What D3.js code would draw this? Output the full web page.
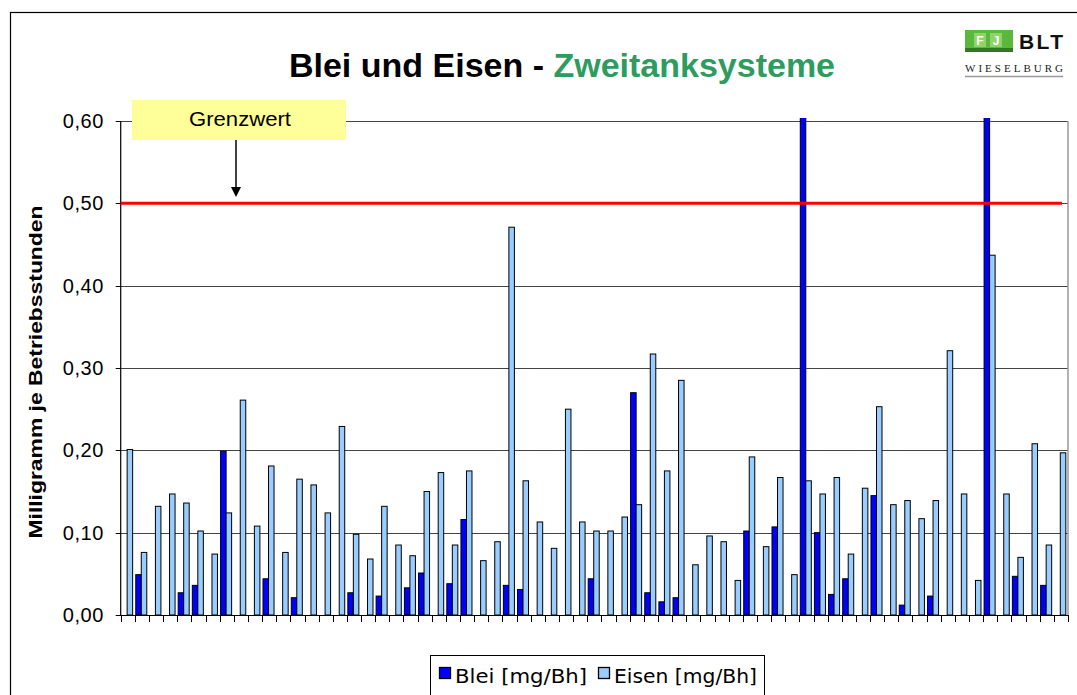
<!DOCTYPE html>
<html>
<head>
<meta charset="utf-8">
<script src="https://cdn.jsdelivr.net/npm/d3@7"></script>
<style>
  html, body { margin: 0; padding: 0; background: #fff; }
  svg { display: block; font-family: "Liberation Sans", Arial, sans-serif; }
</style>
</head>
<body>
<svg id="chart" width="1077" height="695"></svg>
<script>
// Lead and iron per operating hour, 67 two-tank systems.
// null = no bar drawn. Two lead values run off the top of the scale.
const categories = d3.range(1, 68).map(String);
const blei = [
  null, 0.049, null, null, 0.027, 0.036, null, 0.199, null, null,
  0.044, null, 0.021, null, null, null, 0.027, null, 0.023, null,
  0.033, 0.051, null, 0.038, 0.116, null, null, 0.036, 0.031, null,
  null, null, null, 0.044, null, null, 0.270, 0.027, 0.016, 0.021,
  null, null, null, null, 0.102, null, 0.107, null, 0.85, 0.100,
  0.025, 0.044, null, 0.145, null, 0.012, null, 0.023, null, null,
  null, 0.85, null, 0.047, null, 0.036, null
];
const eisen = [
  0.201, 0.076, 0.132, 0.147, 0.136, 0.102, 0.074, 0.124, 0.261, 0.108,
  0.181, 0.076, 0.165, 0.158, 0.124, 0.229, 0.098, 0.068, 0.132, 0.085,
  0.072, 0.150, 0.173, 0.085, 0.175, 0.066, 0.089, 0.471, 0.163, 0.113,
  0.081, 0.250, 0.113, 0.102, 0.102, 0.119, 0.134, 0.317, 0.175, 0.285,
  0.061, 0.096, 0.089, 0.042, 0.192, 0.083, 0.167, 0.049, 0.163, 0.147,
  0.167, 0.074, 0.154, 0.253, 0.134, 0.139, 0.117, 0.139, 0.321, 0.147,
  0.042, 0.437, 0.147, 0.070, 0.208, 0.085, 0.197
];
const series = ["Blei [mg/Bh]", "Eisen [mg/Bh]"];
const colors = ["#0000ff", "#99ccff"];
const yTicks = [0, 0.1, 0.2, 0.3, 0.4, 0.5, 0.6];
const grenzwert = 0.5;

const svg = d3.select("#chart");
const plot = { left: 120.7, right: 1068, top: 121, bottom: 615 };

const x = d3.scaleBand().domain(categories).range([plot.left, plot.right]).padding(0);
const bw = x.bandwidth();
// Excel clusters sit slightly left of centre in each category.
const xs = d3.scaleBand().domain(series).range([bw * 0.065, bw * 0.845]).padding(0);
const y = d3.scaleLinear().domain([0, 0.6]).range([plot.bottom, plot.top]);
const fmt = (v) => d3.format(".2f")(v).replace(".", ",");

// outer chart frame
svg.append("rect")
  .attr("x", 10.5).attr("y", 12.5).attr("width", 1080).attr("height", 700)
  .attr("fill", "#fff").attr("stroke", "#000").attr("stroke-width", 1.2);

// title
const title = svg.append("text")
  .attr("x", 562).attr("y", 77).attr("text-anchor", "middle")
  .attr("font-size", 34).attr("font-weight", "bold");
title.append("tspan").attr("fill", "#000").text("Blei und Eisen - ");
title.append("tspan").attr("fill", "#2e9b5f").text("Zweitanksysteme");

// logo
const logo = svg.append("g").attr("transform", "translate(965,30)");
logo.append("rect").attr("x", 0).attr("y", 0).attr("width", 48).attr("height", 20).attr("fill", "#5cb83c");
logo.append("rect").attr("x", 0).attr("y", 18).attr("width", 48).attr("height", 4).attr("fill", "#2f7a22");
logo.append("rect").attr("x", 9).attr("y", 3).attr("width", 12).attr("height", 14).attr("fill", "#8fd46a");
logo.append("rect").attr("x", 25).attr("y", 3).attr("width", 12).attr("height", 14).attr("fill", "#8fd46a");
logo.append("text").attr("x", 15).attr("y", 15).attr("text-anchor", "middle")
  .attr("font-size", 12).attr("font-weight", "bold").attr("fill", "#fff").text("F");
logo.append("text").attr("x", 31).attr("y", 15).attr("text-anchor", "middle")
  .attr("font-size", 12).attr("font-weight", "bold").attr("fill", "#fff").text("J");
logo.append("text").attr("x", 54).attr("y", 19).attr("font-size", 21)
  .attr("font-weight", "bold").attr("fill", "#111").attr("textLength", 44).text("BLT");
logo.append("text").attr("x", 0).attr("y", 42)
  .attr("font-family", "'Liberation Serif', serif").attr("font-size", 11)
  .attr("textLength", 98).attr("fill", "#222").text("WIESELBURG");
logo.append("line").attr("x1", 0).attr("x2", 98).attr("y1", 46.5).attr("y2", 46.5)
  .attr("stroke", "#999").attr("stroke-width", 1.5);

// gridlines
svg.append("g").selectAll("line")
  .data(yTicks.filter((d) => d > 0))
  .join("line")
  .attr("x1", plot.left).attr("x2", plot.right)
  .attr("y1", (d) => Math.round(y(d)) + 0.5).attr("y2", (d) => Math.round(y(d)) + 0.5)
  .attr("stroke", "#444").attr("stroke-width", 1.2);

// right border of the plot area
svg.append("line")
  .attr("x1", plot.right).attr("x2", plot.right).attr("y1", plot.top).attr("y2", plot.bottom)
  .attr("stroke", "#999").attr("stroke-width", 1.5);

// y axis labels
svg.append("g").selectAll("text")
  .data(yTicks)
  .join("text")
  .attr("x", 104).attr("y", (d) => y(d) + 7)
  .attr("text-anchor", "end").attr("font-size", 20).attr("letter-spacing", 0.6).attr("fill", "#000")
  .text(fmt);

svg.append("g").selectAll("line")
  .data(yTicks)
  .join("line")
  .attr("x1", plot.left - 5).attr("x2", plot.left)
  .attr("y1", (d) => Math.round(y(d)) + 0.5).attr("y2", (d) => Math.round(y(d)) + 0.5)
  .attr("stroke", "#000");

svg.append("text")
  .attr("transform", `translate(42,${(plot.top + plot.bottom) / 2 + 4}) rotate(-90)`)
  .attr("text-anchor", "middle").attr("font-size", 19).attr("font-weight", "bold")
  .attr("textLength", 333).attr("lengthAdjust", "spacingAndGlyphs")
  .text("Milligramm je Betriebsstunden");

// bars, clipped a touch above the plot like Excel does
svg.append("clipPath").attr("id", "clip")
  .append("rect").attr("x", plot.left).attr("y", plot.top - 3)
  .attr("width", plot.right - plot.left).attr("height", plot.bottom - plot.top + 3);

const rows = [];
categories.forEach((c, i) => {
  [blei[i], eisen[i]].forEach((v, k) => {
    if (v != null) rows.push({ cat: c, s: series[k], k, v });
  });
});

svg.append("g").attr("clip-path", "url(#clip)")
  .selectAll("rect")
  .data(rows)
  .join("rect")
  .attr("x", (d) => x(d.cat) + xs(d.s))
  .attr("y", (d) => y(d.v))
  .attr("width", xs.bandwidth())
  .attr("height", (d) => y(0) - y(d.v))
  .attr("fill", (d) => colors[d.k])
  .attr("stroke", "#000").attr("stroke-width", 1);

// x axis with ticks at category boundaries
const bounds = categories.map((c) => x(c)).concat([plot.right]);
svg.append("line")
  .attr("x1", plot.left).attr("x2", plot.right).attr("y1", plot.bottom + 0.5).attr("y2", plot.bottom + 0.5)
  .attr("stroke", "#000").attr("stroke-width", 1.2);
svg.append("g").selectAll("line")
  .data(bounds)
  .join("line")
  .attr("x1", (d) => Math.round(d) + 0.5).attr("x2", (d) => Math.round(d) + 0.5)
  .attr("y1", plot.bottom).attr("y2", plot.bottom + 7)
  .attr("stroke", "#000");
svg.append("line")
  .attr("x1", plot.left).attr("x2", plot.left).attr("y1", plot.top).attr("y2", plot.bottom + 1)
  .attr("stroke", "#000").attr("stroke-width", 1.2);

// limit value line
svg.append("line")
  .attr("x1", plot.left).attr("x2", 1062)
  .attr("y1", y(grenzwert)).attr("y2", y(grenzwert))
  .attr("stroke", "#ff0000").attr("stroke-width", 3);

// Grenzwert callout
svg.append("rect").attr("x", 132).attr("y", 100).attr("width", 214).attr("height", 40).attr("fill", "#ffff99");
svg.append("text").attr("x", 240).attr("y", 126).attr("text-anchor", "middle")
  .attr("font-size", 20).attr("textLength", 102).attr("lengthAdjust", "spacingAndGlyphs")
  .text("Grenzwert");
svg.append("line").attr("x1", 236).attr("x2", 236).attr("y1", 140).attr("y2", 188)
  .attr("stroke", "#000").attr("stroke-width", 1.5);
svg.append("path").attr("d", "M231,187 L241,187 L236,197 Z").attr("fill", "#000");

// legend
const lg = svg.append("g");
lg.append("rect").attr("x", 430.5).attr("y", 655.5).attr("width", 334).attr("height", 50)
  .attr("fill", "#fff").attr("stroke", "#000");
const items = [{ x: 439, tx: 455, w: 132 }, { x: 598, tx: 614, w: 143 }];
series.forEach((s, k) => {
  lg.append("rect").attr("x", items[k].x + 0.5).attr("y", 667.5).attr("width", 11).attr("height", 11)
    .attr("fill", colors[k]).attr("stroke", "#000").attr("stroke-width", 1.3);
  lg.append("text").attr("x", items[k].tx).attr("y", 683)
    .attr("font-family", "'DejaVu Sans', Verdana, sans-serif").attr("font-size", 19)
    .attr("textLength", items[k].w).attr("lengthAdjust", "spacingAndGlyphs")
    .text(s);
});
</script>
</body>
</html>
